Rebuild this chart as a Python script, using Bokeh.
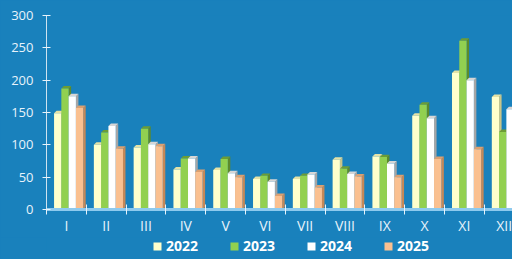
import math
from bokeh.plotting import figure
from bokeh.layouts import column
from bokeh.models import Range1d, FixedTicker, Legend, LegendItem
from bokeh.embed import file_html
from bokeh.resources import INLINE

months = ["I", "II", "III", "IV", "V", "VI", "VII", "VIII", "IX", "X", "XI", "XII"]
years = ["2022", "2023", "2024", "2025"]
v2022 = [149, 100, 96, 62, 61, 47, 47, 77, 82, 145, 211, 174]
v2023 = [187, 119, 125, 79, 78, 52, 52, 63, 81, 162, 261, 120]
v2024 = [175, 129, 101, 79, 56, 43, 54, 55, 71, 141, 200, 155]
v2025 = [157, 94, 98, 58, 50, 21, 34, 51, 50, 78, 93, float("nan")]
y_ticks = [0, 50, 100, 150, 200, 250, 300]

front_colors = ["#ffffcc", "#92d050", "#ffffff", "#fac090"]
top_colors = ["#e4e2a6", "#6c9c36", "#d6d6d6", "#dca070"]
side_colors = ["#c8c58a", "#5c8a2c", "#a6a6a6", "#c48858"]

BG = "#1981bc"
W = 512
H_MAIN, H_LEG = 237, 22
LEFT, TOP, BOTTOM = 46, 15, 27
X_END = 11.71

p = figure(width=W, height=H_MAIN, output_backend="svg", toolbar_location=None,
           x_range=Range1d(0, X_END), y_range=Range1d(0, 300),
           min_border_left=LEFT, min_border_right=0, min_border_top=TOP,
           min_border_bottom=BOTTOM)
p.background_fill_color = BG
p.border_fill_color = BG
p.outline_line_color = None
p.xgrid.visible = False
p.ygrid.visible = False

# approximate pixel scales for the 3D depth
px_x = (W - LEFT) / X_END
px_y = (H_MAIN - TOP - BOTTOM) / 300.0
dx = 2.5 / px_x
dy = 2.5 / px_y
bw = 0.183
off = 0.19

series = [v2022, v2023, v2024, v2025]
fronts = []
for j, vals in enumerate(series):
    L, R, T = [], [], []
    sx, sy, tx, ty = [], [], [], []
    for i, h in enumerate(vals):
        if h is None or (isinstance(h, float) and math.isnan(h)):
            continue
        left = i + off + j * bw
        right = left + bw
        L.append(left); R.append(right); T.append(h)
        sx.append([right, right + dx, right + dx, right])
        sy.append([0, dy, h + dy, h])
        tx.append([left, right, right + dx, left + dx])
        ty.append([h, h, h + dy, h + dy])
    p.patches(xs=sx, ys=sy, fill_color=side_colors[j], line_color=None)
    p.patches(xs=tx, ys=ty, fill_color=top_colors[j], line_color=None)
    p.quad(left=L, right=R, bottom=0, top=T, fill_color=front_colors[j], line_color=None)
    fronts.append((L, R, T))

FONT = "Open Sans"
LBL = "#e8f3fb"

# y axis
ya = p.yaxis[0]
ya.ticker = FixedTicker(ticks=y_ticks, minor_ticks=[])
ya.major_tick_in = 4
ya.major_tick_out = 4
ya.major_tick_line_color = "#e8f3fb"
ya.axis_line_color = "#cfe3f0"
ya.major_label_standoff = 9
ya.major_label_text_font = FONT
ya.major_label_text_font_size = "13px"
ya.major_label_text_color = LBL

# x axis
xa = p.xaxis[0]
xa.ticker = FixedTicker(ticks=[i + 0.5 for i in range(12)], minor_ticks=list(range(13)))
xa.major_label_overrides = {i + 0.5: m for i, m in enumerate(months)}
xa.major_tick_line_color = None
xa.major_tick_in = 0
xa.major_tick_out = 0
xa.minor_tick_in = 5
xa.minor_tick_out = 5
xa.minor_tick_line_color = "#e8f3fb"
xa.axis_line_color = "#8ecaee"
xa.axis_line_width = 3
xa.major_label_standoff = 1
xa.major_label_text_font = FONT
xa.major_label_text_font_size = "14px"
xa.major_label_text_color = LBL

# legend strip (same series, ranges placed so the bars stay out of view)
lg = figure(width=W, height=H_LEG, output_backend="svg", toolbar_location=None,
            x_range=Range1d(100, 101), y_range=Range1d(0, 1),
            x_axis_location=None, y_axis_location=None,
            min_border_left=0, min_border_right=0, min_border_top=0, min_border_bottom=0)
lg.background_fill_color = BG
lg.border_fill_color = BG
lg.outline_line_color = None
lg.grid.visible = False
items = []
for j, yr in enumerate(years):
    L, R, T = fronts[j]
    r = lg.quad(left=L, right=R, bottom=0, top=T, fill_color=front_colors[j], line_color=None)
    items.append(LegendItem(label=yr, renderers=[r]))
legend = Legend(items=items, orientation="horizontal", location=(106, 4),
                glyph_width=10, glyph_height=10, label_standoff=4, spacing=31,
                padding=0, margin=0, label_height=14,
                label_text_font=FONT, label_text_font_size="14px",
                label_text_font_style="bold", label_text_color="#ffffff",
                background_fill_alpha=0, border_line_alpha=0)
lg.add_layout(legend, "center")

layout = column(p, lg, spacing=0)
layout.styles = {"background-color": BG}
open("out.html", "w").write(file_html(layout, INLINE))
